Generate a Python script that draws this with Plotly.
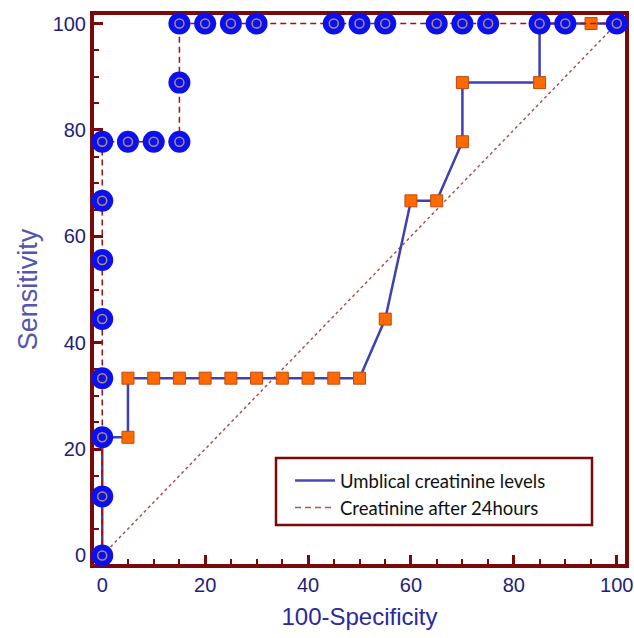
import plotly.graph_objects as go

# Umblical creatinine levels (solid blue line, orange squares)
umb_fpr = [0, 0, 0, 5, 5, 10, 15, 20, 25, 30, 35, 40, 45, 50, 55, 60, 65, 70, 70, 85, 85, 95, 100]
umb_sens = [0, 11.11, 22.22, 22.22, 33.33, 33.33, 33.33, 33.33, 33.33, 33.33, 33.33, 33.33, 33.33, 33.33,
            44.44, 66.67, 66.67, 77.78, 88.89, 88.89, 100, 100, 100]

# Creatinine after 24hours (dashed red line, blue circles)
c24_fpr = [0, 0, 0, 0, 0, 0, 0, 0, 5, 10, 15, 15, 15, 20, 25, 30, 45, 50, 55, 65, 70, 75, 85, 90, 100]
c24_sens = [0, 11.11, 22.22, 33.33, 44.44, 55.56, 66.67, 77.78, 77.78, 77.78, 77.78, 88.89, 100, 100, 100,
            100, 100, 100, 100, 100, 100, 100, 100, 100, 100]

diag = [0, 100]
tick_vals = [0, 20, 40, 60, 80, 100]
series_names = ["Umblical creatinine levels", "Creatinine after 24hours"]

DARKRED = "#7a0a0a"
NAVY = "#1e1e78"
tick_font = dict(family="Liberation Sans, Arial, sans-serif", size=20, color=NAVY)

fig = go.Figure()

# chance diagonal
fig.add_trace(go.Scatter(x=diag, y=diag, mode="lines", line=dict(color="#b05050", width=1.5, dash="dot"),
                         showlegend=False, hoverinfo="skip"))

# solid blue curve with squares
fig.add_trace(go.Scatter(x=umb_fpr, y=umb_sens, mode="lines+markers", cliponaxis=False,
                         line=dict(color="#4040b0", width=2.5),
                         marker=dict(symbol="square", size=12, color="#ff6a00", line=dict(color="#c04a10", width=1)),
                         showlegend=False))

# dashed red curve
fig.add_trace(go.Scatter(x=c24_fpr, y=c24_sens, mode="lines", cliponaxis=False,
                         line=dict(color="#a81010", width=1.5, dash="6px,4px"),
                         showlegend=False))
# blue circle markers
fig.add_trace(go.Scatter(x=c24_fpr, y=c24_sens, mode="markers", cliponaxis=False,
                         marker=dict(symbol="circle", size=22, color="#0a10f0", opacity=1, line=dict(width=0)),
                         showlegend=False))
fig.add_trace(go.Scatter(x=c24_fpr, y=c24_sens, mode="markers", cliponaxis=False,
                         marker=dict(symbol="circle-open", size=9, color="#b09070", line=dict(width=1.5, color="#b09070")),
                         showlegend=False))

# legend entries (lines only)
fig.add_trace(go.Scatter(x=[None], y=[None], mode="lines", name=series_names[0],
                         line=dict(color="#4848b8", width=2.5)))
fig.add_trace(go.Scatter(x=[None], y=[None], mode="lines", name=series_names[1],
                         line=dict(color="#c05050", width=1.5, dash="6px,4px")))

W, H = 634, 638
L, R, T, B = 94, 9, 15, 74
PW, PH = W - L - R, H - T - B
fig.update_layout(
    width=W, height=H,
    margin=dict(l=L, r=R, t=T, b=B, autoexpand=False),
    paper_bgcolor="white", plot_bgcolor="white",
    hovermode=False,
    showlegend=True,
    legend=dict(x=(290 - L) / PW, y=(H - B - 462) / PH, xanchor="left", yanchor="top",
                bgcolor="rgba(0,0,0,0)", borderwidth=0,
                font=dict(family="Lato, Open Sans, sans-serif", size=18.5, color="#111111"),
                tracegroupgap=0, itemwidth=40),
    shapes=[dict(type="rect", xref="paper", yref="paper",
                 x0=(276 - L) / PW, x1=(592 - L) / PW,
                 y0=(H - B - 525) / PH, y1=(H - B - 458) / PH,
                 line=dict(color=DARKRED, width=2.5), fillcolor="white", layer="below")],
)

fig.update_xaxes(range=[-1.6, 101.6], showgrid=False, zeroline=False, automargin=False,
                 layer="below traces",
                 showline=True, linecolor=DARKRED, linewidth=4, mirror=True,
                 ticks="inside", ticklen=9, tickwidth=3, tickcolor=DARKRED,
                 tickvals=tick_vals, tickfont=tick_font,
                 minor=dict(ticks="inside", ticklen=5, tickwidth=2, tickcolor=DARKRED, dtick=5, tick0=0),
                 title=dict(text="100-Specificity", font=dict(family="Liberation Sans, Arial, sans-serif", size=24, color="#2a2a9c"), standoff=14))
fig.update_yaxes(range=[-1.6, 101.6], showgrid=False, zeroline=False, automargin=False,
                 layer="below traces",
                 showline=True, linecolor=DARKRED, linewidth=4, mirror=True,
                 ticks="inside", ticklen=9, tickwidth=3, tickcolor=DARKRED,
                 tickvals=tick_vals, tickfont=tick_font, ticksuffix="\u2009",
                 minor=dict(ticks="inside", ticklen=5, tickwidth=2, tickcolor=DARKRED, dtick=5, tick0=0),
                 title=dict(text="Sensitivity", font=dict(family="Liberation Sans, Arial, sans-serif", size=27, color="#5555b0"), standoff=8))

fig.write_html("out.html", config={"displayModeBar": False},
               post_script="document.body.style.margin='0px';")
